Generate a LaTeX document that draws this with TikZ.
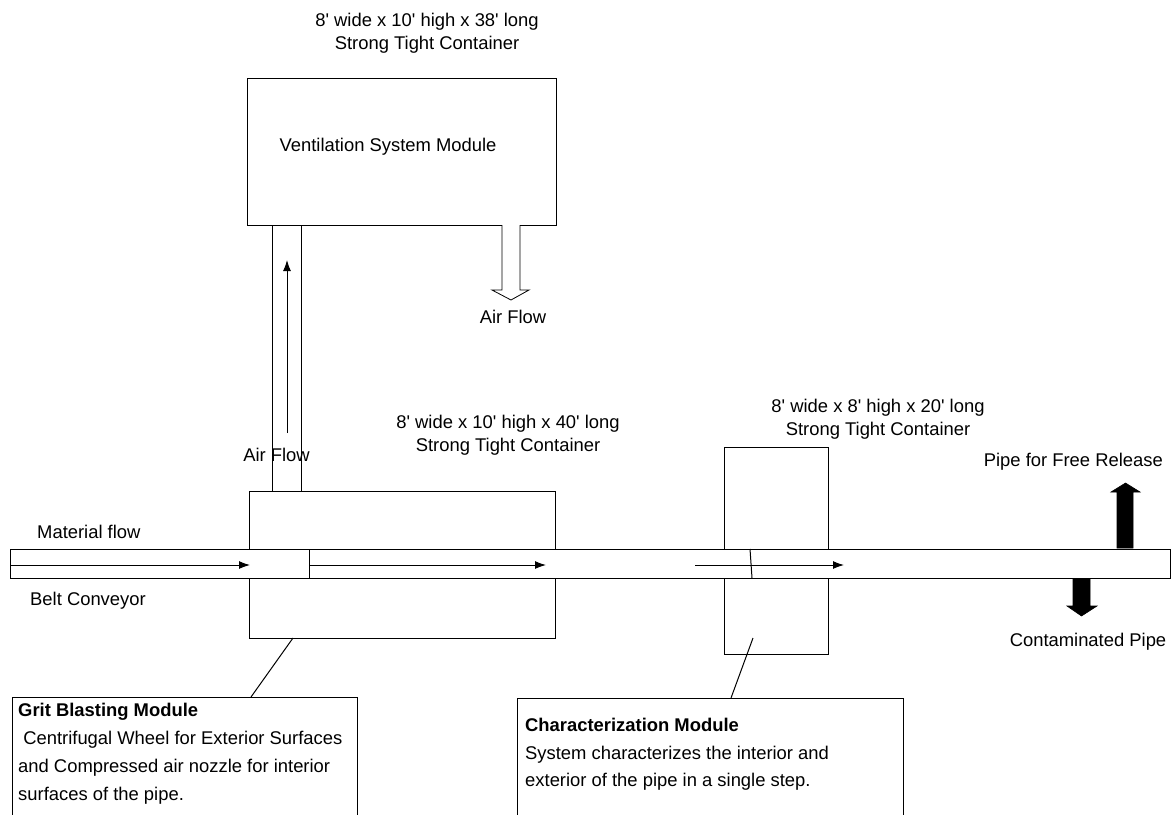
\documentclass[tikz,border=0pt]{standalone}
\usepackage{fontspec}
\setmainfont{Liberation Sans}
\usetikzlibrary{arrows.meta}
\newcommand{\ftq}{\textquotesingle}
\begin{document}
\begin{tikzpicture}[x=1pt,y=-1pt,
  line/.style={line width=1pt,line join=miter},
  lbl/.style={inner sep=0pt,font=\fontsize{18.4}{23}\selectfont,align=center},
  flowarrow/.style={line,-{Latex[length=11pt,width=8pt]}},
  fat/.style={fill=black,draw=black,line width=0.6pt},
  txt/.style={inner sep=0pt,font=\fontsize{18.4}{28}\selectfont,align=left,anchor=north west}]
\useasboundingbox[fill=white] (0,0) rectangle (1172,814);

% ---- Ventilation module (with opening for outlet)
\draw[line] (502,225) -- (247,225) -- (247,78) -- (556,78) -- (556,225) -- (520,225);
\node[lbl] (vtop) at (427,33.5) {8\ftq{} wide x 10\ftq{} high x 38\ftq{} long\\Strong Tight Container};
\node[lbl] (vname) at (388,147) {Ventilation System Module};

% outlet hollow arrow
\draw[line,line width=0.8pt] (502,225) -- (502,290) -- (492,290) -- (511,300) -- (529,290) -- (520,290) -- (520,225);
\node[lbl] (af2) at (513,317) {Air Flow};

% ---- duct between modules
\draw[line] (272,225) -- (272,491);
\draw[line] (301,225) -- (301,491);
\coordinate (ductlow) at (287,433);
\coordinate (ducthigh) at (287,260);
\draw[flowarrow] (ductlow) -- (ducthigh);
\node[lbl] (af1) at (276.5,455) {Air Flow};

% ---- Grit blasting module
\draw[line] (249,549) -- (249,491) -- (555,491) -- (555,549);
\draw[line] (249,578) -- (249,638) -- (555,638) -- (555,578);
\node[lbl] (gtop) at (508,435) {8\ftq{} wide x 10\ftq{} high x 40\ftq{} long\\Strong Tight Container};

% ---- Characterization module
\draw[line] (724,549) -- (724,447) -- (828,447) -- (828,549);
\draw[line] (724,578) -- (724,654) -- (828,654) -- (828,578);
\node[lbl] (ctop) at (878,419) {8\ftq{} wide x 8\ftq{} high x 20\ftq{} long\\Strong Tight Container};

% ---- Pipe / belt conveyor
\draw[line] (10,549) rectangle (1170,578);
\draw[line] (309,549) -- (309,578);
\draw[line] (750,549) -- (752,578);
\coordinate (a1s) at (10,565);   \coordinate (a1e) at (250,565);
\coordinate (a2s) at (310,565);  \coordinate (a2e) at (546,565);
\coordinate (a3s) at (695,565);  \coordinate (a3e) at (844,565);
\draw[flowarrow] (a1s) -- (a1e);
\draw[flowarrow] (a2s) -- (a2e);
\draw[flowarrow] (a3s) -- (a3e);
\node[lbl,anchor=west] (mf) at (37,532) {Material flow};
\node[lbl,anchor=west] (bc) at (30,601) {Belt Conveyor};

% ---- outputs
\draw[fat] (1117,548) -- (1117,492) -- (1111,492) -- (1125.5,483) -- (1140,492) -- (1133,492) -- (1133,548) -- cycle;
\draw[fat] (1073,579) -- (1073,606) -- (1067,606) -- (1081.5,616) -- (1097,606) -- (1090,606) -- (1090,579) -- cycle;
\node[lbl,anchor=east] (pfr) at (1163,462) {Pipe for Free Release};
\node[lbl] (cp) at (1088,642) {Contaminated Pipe};

% ---- description boxes
\draw[line] (12,830) -- (12,697) -- (357,697) -- (357,830);
\draw[line] (517,830) -- (517,698) -- (903,698) -- (903,830);
\coordinate (g1) at (293,638); \coordinate (g2) at (251,697);
\coordinate (c1) at (753,638); \coordinate (c2) at (731,698);
\draw[line] (g1) -- (g2);
\draw[line] (c1) -- (c2);
\node[txt] (gdesc) at (18,703) {\textbf{Grit Blasting Module}\\\ Centrifugal Wheel for Exterior Surfaces\\and Compressed air nozzle for interior\\surfaces of the pipe.};
\node[txt,font=\fontsize{18.4}{27.5}\selectfont] (cdesc) at (525,718) {\textbf{Characterization Module}\\System characterizes the interior and\\exterior of the pipe in a single step.};
\end{tikzpicture}
\end{document}
